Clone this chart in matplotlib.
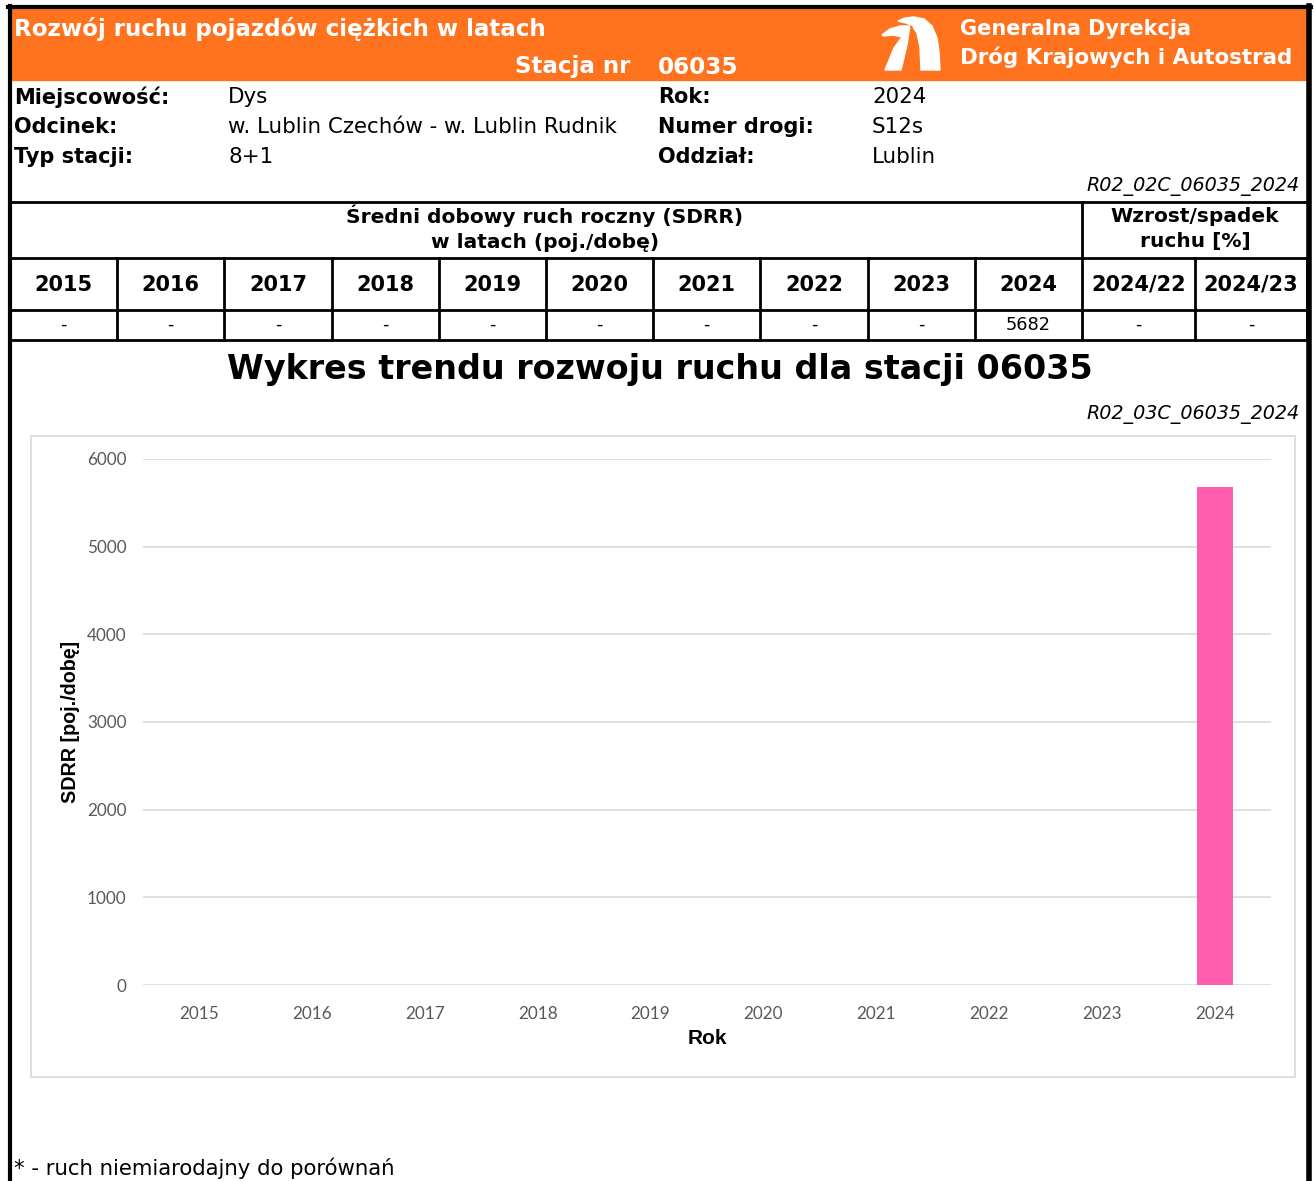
import matplotlib.pyplot as plt
from matplotlib.patches import Rectangle, Polygon

# ====== Data ======
station = "06035"
years = [2015, 2016, 2017, 2018, 2019, 2020, 2021, 2022, 2023, 2024]
sdrr = [None, None, None, None, None, None, None, None, None, 5682]
change_labels = ["2024/22", "2024/23"]
change_values = ["-", "-"]

info_left = [("Miejscowość:", "Dys"),
             ("Odcinek:", "w. Lublin Czechów - w. Lublin Rudnik"),
             ("Typ stacji:", "8+1")]
info_right = [("Rok:", "2024"),
              ("Numer drogi:", "S12s"),
              ("Oddział:", "Lublin")]

ORANGE = "#FF731F"
PINK = "#FF5BAF"
GRID = "#d9d9d9"
TICK = "#595959"
W, H = 1314, 1181

fig = plt.figure(figsize=(W / 100, H / 100), dpi=100)

# overlay in pixel coordinates for the report frame
bg = fig.add_axes([0, 0, 1, 1])
bg.set_xlim(0, W)
bg.set_ylim(H, 0)
bg.axis("off")

# header band
bg.add_patch(Rectangle((10, 8), 1297, 72, color=ORANGE, zorder=1))
bg.text(14, 29, "Rozwój ruchu pojazdów ciężkich w latach", color="white",
        fontsize=16.6, fontweight="bold", va="center", ha="left")
bg.text(630, 67, "Stacja nr", color="white", fontsize=16.6, fontweight="bold",
        va="center", ha="right")
bg.text(658, 68, station, color="white", fontsize=16.6, fontweight="bold",
        va="center", ha="left")
bg.text(960, 29, "Generalna Dyrekcja", color="white", fontsize=15,
        fontweight="bold", va="center", ha="left")
bg.text(960, 57, "Dróg Krajowych i Autostrad", color="white", fontsize=15.4,
        fontweight="bold", va="center", ha="left")

# logo (rough road shape)
logo_left = [(882.5, 34.5), (890, 29), (900, 26), (909, 26), (911, 30),
             (907, 45), (901, 70), (885, 70), (894, 48), (902, 37),
             (893, 35), (882.5, 36)]
logo_right = [(898, 21), (905, 18), (914, 17), (924, 19), (932, 26),
              (937, 38), (939, 52), (940, 70), (921, 70), (920, 47),
              (917, 33), (912, 25.5), (906, 23)]
bg.add_patch(Polygon(logo_left, closed=True, color="white", zorder=2))
bg.add_patch(Polygon(logo_right, closed=True, color="white", zorder=2))
bg.plot([911.5, 905], [27, 70], color=ORANGE, lw=1.5, zorder=3)

# station info
for i, (lab, val) in enumerate(info_left):
    y = 97 + i * 30
    bg.text(14, y, lab, fontsize=15, fontweight="bold", va="center")
    bg.text(228, y, val, fontsize=15.4, va="center")
for i, (lab, val) in enumerate(info_right):
    y = 97 + i * 30
    bg.text(658, y, lab, fontsize=15, fontweight="bold", va="center")
    bg.text(872, y, val, fontsize=15.4, va="center")
bg.text(1300, 187, "R02_02C_06035_2024", fontsize=13.8, style="italic",
        va="center", ha="right")

# table
col_x = [10 + i * 107.2 for i in range(11)] + [1195, 1307]
for y in [202, 258, 310, 340]:
    bg.plot([10, 1307], [y, y], color="black", lw=2, zorder=3)
bg.plot([1082, 1082], [202, 258], color="black", lw=2, zorder=3)
for x in col_x:
    bg.plot([x, x], [258, 340], color="black", lw=2, zorder=3)

bg.text(545, 216, "Średni dobowy ruch roczny (SDRR)", fontsize=14.5,
        fontweight="bold", ha="center", va="center")
bg.text(545, 242, "w latach (poj./dobę)", fontsize=14.5, fontweight="bold",
        ha="center", va="center")
bg.text(1195, 216, "Wzrost/spadek", fontsize=14.5, fontweight="bold",
        ha="center", va="center")
bg.text(1195, 242, "ruchu [%]", fontsize=14.5, fontweight="bold",
        ha="center", va="center")

head = [str(y) for y in years] + change_labels
vals = ["-" if v is None else str(v) for v in sdrr] + change_values
for i in range(len(head)):
    cx = (col_x[i] + col_x[i + 1]) / 2
    bg.text(cx, 285, head[i], fontsize=15, fontweight="bold",
            ha="center", va="center")
    bg.text(cx, 325, vals[i], fontsize=12.8, ha="center", va="center")

# outer frame
bg.plot([9.5, 9.5], [6, H], color="black", lw=3, zorder=4)
bg.plot([1309, 1309], [6, H], color="black", lw=4, zorder=4)
bg.plot([8, 1311], [6.5, 6.5], color="black", lw=3, zorder=4)

# chart titles and box
bg.text(660, 370, "Wykres trendu rozwoju ruchu dla stacji " + station,
        fontsize=24, fontweight="bold", ha="center", va="center")
bg.text(1300, 415, "R02_03C_06035_2024", fontsize=13.8, style="italic",
        va="center", ha="right")
bg.add_patch(Rectangle((31, 436), 1264, 641, fill=False, edgecolor=GRID, lw=1.2))
bg.text(70, 722, "SDRR [poj./dobę]", fontsize=14.2, fontweight="bold",
        family="Liberation Sans", rotation=90, ha="center", va="center")
bg.text(707, 1039, "Rok", fontsize=15, fontweight="bold",
        family="Liberation Sans", ha="center", va="center")

bg.text(14, 1168, "* - ruch niemiarodajny do porównań", fontsize=15.3,
        va="center", ha="left")

# ====== Chart ======
ax = fig.add_axes([143 / W, 1 - 985 / H, (1271 - 143) / W, (985 - 459) / H])
xs = list(range(len(years)))
bar_h = [0 if v is None else v for v in sdrr]
ax.bar(xs, bar_h, width=0.32, color=PINK, zorder=3)
ax.set_xlim(-0.5, len(years) - 0.5)
ax.set_ylim(0, 6000)
ax.set_yticks(range(0, 6001, 1000))
ax.set_xticks(xs)
ax.set_xticklabels([str(y) for y in years])
ax.yaxis.grid(True, color=GRID, lw=1.2, zorder=0)
ax.set_axisbelow(True)
for s in ax.spines.values():
    s.set_visible(False)
ax.tick_params(axis="both", length=0, labelcolor=TICK, labelsize=12.3)
ax.tick_params(axis="y", pad=12)
ax.tick_params(axis="x", pad=15)
for lab in ax.get_xticklabels() + ax.get_yticklabels():
    lab.set_family("Lato")
ax.patch.set_alpha(0)

fig.savefig("out.png", dpi=100)
